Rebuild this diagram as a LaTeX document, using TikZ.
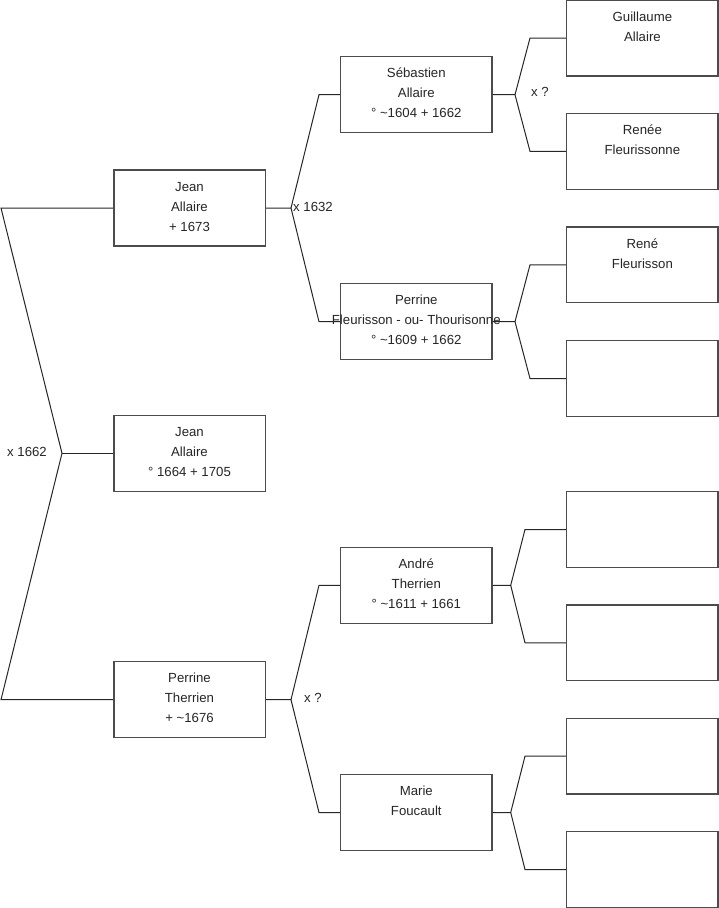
\documentclass[tikz,border=0pt]{standalone}
\usepackage{fontspec}
\setmainfont{Liberation Sans}
\begin{document}
\begin{tikzpicture}[x=1pt,y=-1pt,
  box/.style={draw=black!70,line width=1.4pt,fill=white,minimum width=151pt,minimum height=75.5pt,inner sep=0pt},
  txt/.style={anchor=north,inner sep=0pt,align=center,text=black!85,font=\fontsize{13.2pt}{20pt}\selectfont},
  lbl/.style={anchor=west,inner sep=0pt,text=black!85,font=\fontsize{13.2pt}{20pt}\selectfont},
  conn/.style={draw=black!85,line width=1pt}]
\useasboundingbox (0,0) rectangle (719,908);
% connector coordinates
\coordinate (L1) at (1,208);
\coordinate (L2) at (1,699.7);
\coordinate (f0) at (62,453.3);
\coordinate (fJ) at (291,208);
\coordinate (fJu) at (319,94.7);
\coordinate (fJd) at (319,321.7);
\coordinate (fP) at (291,699.7);
\coordinate (fPu) at (319,585.3);
\coordinate (fPd) at (319,812.5);
\coordinate (fS) at (515,94.7);
\coordinate (fSu) at (530,38);
\coordinate (fSd) at (530,151.3);
\coordinate (fF) at (515,321.7);
\coordinate (fFu) at (530,264.8);
\coordinate (fFd) at (530,378.5);
\coordinate (fA) at (510.7,585.3);
\coordinate (fAu) at (525,529.5);
\coordinate (fAd) at (525,642.8);
\coordinate (fM) at (510.7,812.5);
\coordinate (fMu) at (525,756.2);
\coordinate (fMd) at (525,869.5);
% box anchors (invisible, for naming)
\path
  node[minimum width=151pt,minimum height=75.5pt,inner sep=0pt] (jean) at (189.5,208) {}
  node[minimum width=151pt,minimum height=75.5pt,inner sep=0pt] (jean2) at (189.5,453.3) {}
  node[minimum width=151pt,minimum height=75.5pt,inner sep=0pt] (perT) at (189.5,699.7) {}
  node[minimum width=151pt,minimum height=75.5pt,inner sep=0pt] (seb) at (416.3,94.7) {}
  node[minimum width=151pt,minimum height=75.5pt,inner sep=0pt] (perF) at (416.3,321.7) {}
  node[minimum width=151pt,minimum height=75.5pt,inner sep=0pt] (andre) at (416.3,585.3) {}
  node[minimum width=151pt,minimum height=75.5pt,inner sep=0pt] (marie) at (416.3,812.5) {}
  node[minimum width=151pt,minimum height=75.5pt,inner sep=0pt] (g1) at (642.4,38.2) {}
  node[minimum width=151pt,minimum height=75.5pt,inner sep=0pt] (g2) at (642.4,151.3) {}
  node[minimum width=151pt,minimum height=75.5pt,inner sep=0pt] (g3) at (642.4,264.8) {}
  node[minimum width=151pt,minimum height=75.5pt,inner sep=0pt] (g4) at (642.4,378.5) {}
  node[minimum width=151pt,minimum height=75.5pt,inner sep=0pt] (g5) at (642.4,529.5) {}
  node[minimum width=151pt,minimum height=75.5pt,inner sep=0pt] (g6) at (642.4,642.8) {}
  node[minimum width=151pt,minimum height=75.5pt,inner sep=0pt] (g7) at (642.4,756.2) {}
  node[minimum width=151pt,minimum height=75.5pt,inner sep=0pt] (g8) at (642.4,869.5) {};
% connectors
\path[conn] (jean.west) -- (L1) -- (f0) -- (L2) -- (perT.west);
\path[conn] (f0) -- (jean2.west);
\path[conn] (jean.east) -- (fJ) -- (fJu) -- (seb.west);
\path[conn] (fJ) -- (fJd) -- (perF.west);
\path[conn] (perT.east) -- (fP) -- (fPu) -- (andre.west);
\path[conn] (fP) -- (fPd) -- (marie.west);
\path[conn] (seb.east) -- (fS) -- (fSu) -- (g1.west);
\path[conn] (fS) -- (fSd) -- (g2.west);
\path[conn] (perF.east) -- (fF) -- (fFu) -- (g3.west);
\path[conn] (fF) -- (fFd) -- (g4.west);
\path[conn] (andre.east) -- (fA) -- (fAu) -- (g5.west);
\path[conn] (fA) -- (fAd) -- (g6.west);
\path[conn] (marie.east) -- (fM) -- (fMu) -- (g7.west);
\path[conn] (fM) -- (fMd) -- (g8.west);
% boxes on top of connectors
\foreach \n in {jean,jean2,perT,seb,perF,andre,marie,g1,g2,g3,g4,g5,g6,g7,g8}{
  \draw[draw=black!70,line width=1.4pt,fill=white] (\n.north west) rectangle (\n.south east);
}
% texts
\node[txt] (jean-t) at ([yshift=-7pt]jean.north) {\strut Jean\\Allaire\\+ 1673};
\node[txt] (jean2-t) at ([yshift=-7pt]jean2.north) {\strut Jean\\Allaire\\° 1664 + 1705};
\node[txt] (perT-t) at ([yshift=-7pt]perT.north) {\strut Perrine\\Therrien\\+ \textasciitilde 1676};
\node[txt] (seb-t) at ([yshift=-7pt]seb.north) {\strut Sébastien\\Allaire\\° \textasciitilde 1604 + 1662};
\node[txt] (perF-t) at ([yshift=-7pt]perF.north) {\strut Perrine\\Fleurisson - ou- Thourisonne\\° \textasciitilde 1609 + 1662};
\node[txt] (andre-t) at ([yshift=-7pt]andre.north) {\strut André\\Therrien\\° \textasciitilde 1611 + 1661};
\node[txt] (marie-t) at ([yshift=-7pt]marie.north) {\strut Marie\\Foucault};
\node[txt] (g1-t) at ([yshift=-7pt]g1.north) {\strut Guillaume\\Allaire};
\node[txt] (g2-t) at ([yshift=-7pt]g2.north) {\strut Renée\\Fleurissonne};
\node[txt] (g3-t) at ([yshift=-7pt]g3.north) {\strut René\\Fleurisson};
% labels
\node[lbl] (l0) at (7,452) {x 1662};
\node[lbl] (lJ) at (293,207) {x 1632};
\node[lbl] (lS) at (531,92) {x ?};
\node[lbl] (lP) at (304,698) {x ?};
\end{tikzpicture}
\end{document}
